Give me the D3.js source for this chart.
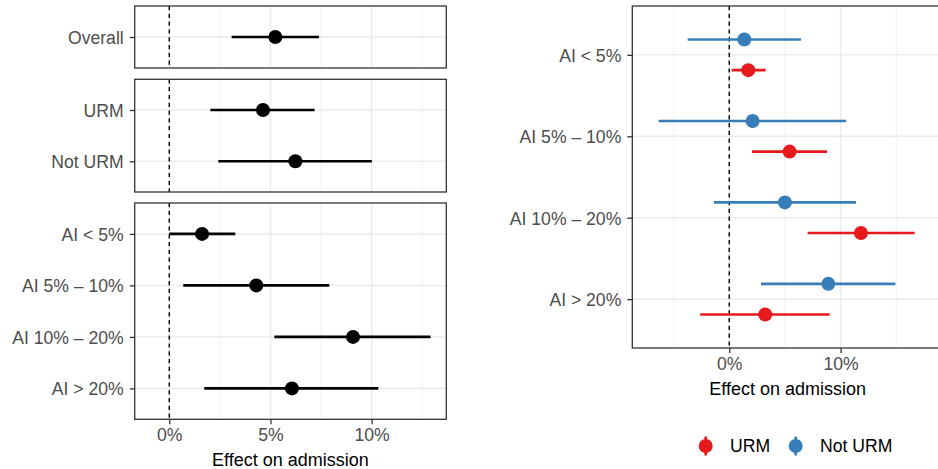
<!DOCTYPE html>
<html><head><meta charset="utf-8">
<script src="https://cdn.jsdelivr.net/npm/d3@7"></script>
<style>body{margin:0;background:#fff}svg{display:block;font-family:"Liberation Sans",Arial,sans-serif}</style>
</head><body><svg id="c" width="938" height="469"></svg>
<script>
// ---- data ----
const overallCats = ["Overall"];
const overallEst = [5.24], overallLo = [3.08], overallHi = [7.40];
const urmCats = ["URM", "Not URM"];
const urmEst = [4.63, 6.23], urmLo = [2.03, 2.42], urmHi = [7.18, 10.01];
const aiCats = ["AI < 5%", "AI 5% – 10%", "AI 10% – 20%", "AI > 20%"];
const aiEst = [1.62, 4.30, 9.08, 6.06], aiLo = [0.0, 0.69, 5.19, 1.73], aiHi = [3.26, 7.91, 12.91, 10.33];
const groups = ["URM", "Not URM"];
const rUrmEst = [1.71, 5.42, 11.83, 3.23], rUrmLo = [0.21, 2.04, 7.04, -2.61], rUrmHi = [3.27, 8.78, 16.65, 9.02];
const rNotEst = [1.35, 2.10, 5.00, 8.90], rNotLo = [-3.74, -6.35, -1.37, 2.85], rNotHi = [6.44, 10.49, 11.38, 14.92];
const leftTicks = [0, 5, 10], leftMinor = [2.5, 7.5, 12.5];
const rightTicks = [0, 10], rightMinor = [-5, 5, 15];
const colors = {"URM": "#E41A1C", "Not URM": "#377EB8"};

const svg = d3.select("#c");
svg.append("rect").attr("width", 938).attr("height", 469).attr("fill", "#fff");
const fmt = d => d + "%";
const GRID = "#EBEBEB", BORDER = "#333333", TXT = "#4D4D4D";
const FS = 17.6, FT = 18;

function panel(x, y, cats, series, ticks, minor, showX, title) {
  const g = svg.append("g");
  const [yr0, yr1] = y.range();
  const [xr0, xr1] = x.range();
  // grid
  g.selectAll(".mn").data(minor).join("line")
    .attr("x1", d => x(d)).attr("x2", d => x(d)).attr("y1", yr0).attr("y2", yr1)
    .attr("stroke", GRID).attr("stroke-width", 0.8);
  g.selectAll(".mj").data(ticks).join("line")
    .attr("x1", d => x(d)).attr("x2", d => x(d)).attr("y1", yr0).attr("y2", yr1)
    .attr("stroke", GRID).attr("stroke-width", 1.5);
  g.selectAll(".hy").data(cats).join("line")
    .attr("x1", xr0).attr("x2", xr1).attr("y1", d => y(d)).attr("y2", d => y(d))
    .attr("stroke", GRID).attr("stroke-width", 1.5);
  // zero line
  g.append("line").attr("x1", x(0)).attr("x2", x(0)).attr("y1", yr0).attr("y2", yr1)
    .attr("stroke", "#000").attr("stroke-width", 1.4).attr("stroke-dasharray", "4.2,3.6");
  // series
  series.forEach(s => {
    const data = cats.map((c, i) => ({c, e: s.est[i], lo: s.lo[i], hi: s.hi[i]}));
    g.selectAll(null).data(data).join("line")
      .attr("x1", d => x(d.lo)).attr("x2", d => x(d.hi))
      .attr("y1", d => y(d.c) + s.off).attr("y2", d => y(d.c) + s.off)
      .attr("stroke", s.color).attr("stroke-width", 2.6);
    g.selectAll(null).data(data).join("circle")
      .attr("cx", d => x(d.e)).attr("cy", d => y(d.c) + s.off).attr("r", 7)
      .attr("fill", s.color);
  });
  // border
  g.append("rect").attr("x", xr0).attr("y", yr0).attr("width", xr1 - xr0).attr("height", yr1 - yr0)
    .attr("fill", "none").attr("stroke", BORDER).attr("stroke-width", 1.3);
  // y axis
  const ya = g.append("g").attr("transform", `translate(${xr0},0)`)
    .call(d3.axisLeft(y).tickSize(5).tickPadding(6));
  ya.select(".domain").remove();
  ya.selectAll("line").attr("stroke", BORDER).attr("stroke-width", 1.3);
  ya.selectAll("text").attr("fill", TXT).attr("font-size", FS).attr("font-family", null).attr("dy", "0.36em");
  if (showX) {
    const xa = g.append("g").attr("transform", `translate(0,${yr1})`)
      .call(d3.axisBottom(x).tickValues(ticks).tickFormat(fmt).tickSize(5).tickPadding(4));
    xa.select(".domain").remove();
    xa.selectAll("line").attr("stroke", BORDER).attr("stroke-width", 1.3);
    xa.selectAll("text").attr("fill", TXT).attr("font-size", FS).attr("font-family", null).attr("dy", "0.72em");
    g.append("text").attr("x", (xr0 + Math.min(xr1, 943)) / 2).attr("y", title)
      .attr("text-anchor", "middle").attr("font-size", FT).attr("fill", "#000").text("Effect on admission");
  }
}

// left column
const xL = d3.scaleLinear().domain([-1.71, 13.69]).range([134.7, 446.3]);
const y1 = d3.scalePoint().domain(overallCats).range([6, 68]).padding(0.6);
const y2 = d3.scalePoint().domain(urmCats).range([79.3, 192]).padding(0.6);
const y3 = d3.scalePoint().domain(aiCats).range([203, 419.3]).padding(0.6);
panel(xL, y1, overallCats, [{est: overallEst, lo: overallLo, hi: overallHi, color: "#000", off: 0}], leftTicks, leftMinor, false);
panel(xL, y2, urmCats, [{est: urmEst, lo: urmLo, hi: urmHi, color: "#000", off: 0}], leftTicks, leftMinor, false);
panel(xL, y3, aiCats, [{est: aiEst, lo: aiLo, hi: aiHi, color: "#000", off: 0}], leftTicks, leftMinor, true, 465.5);

// right
const xR = d3.scaleLinear().domain([-8.71, 19.2]).range([632.3, 943]);
const yR = d3.scalePoint().domain(aiCats).range([6, 348]).padding(0.6);
const dodge = yR.step() * 0.188;
panel(xR, yR, aiCats, [
  {est: rNotEst, lo: rNotLo, hi: rNotHi, color: colors["Not URM"], off: -dodge},
  {est: rUrmEst, lo: rUrmLo, hi: rUrmHi, color: colors["URM"], off: dodge}
], rightTicks, rightMinor, true, 395);

// legend
const legX = [705.7, 795.7], legY = 446;
const lg = svg.append("g");
groups.forEach((grp, i) => {
  lg.append("line").attr("x1", legX[i]).attr("x2", legX[i]).attr("y1", legY - 9.5).attr("y2", legY + 9.5)
    .attr("stroke", colors[grp]).attr("stroke-width", 2.6);
  lg.append("circle").attr("cx", legX[i]).attr("cy", legY).attr("r", 7).attr("fill", colors[grp]);
  lg.append("text").attr("x", legX[i] + 24.3).attr("y", legY).attr("dy", "0.36em")
    .attr("font-size", FS).attr("fill", "#000").text(grp);
});
</script></body></html>
